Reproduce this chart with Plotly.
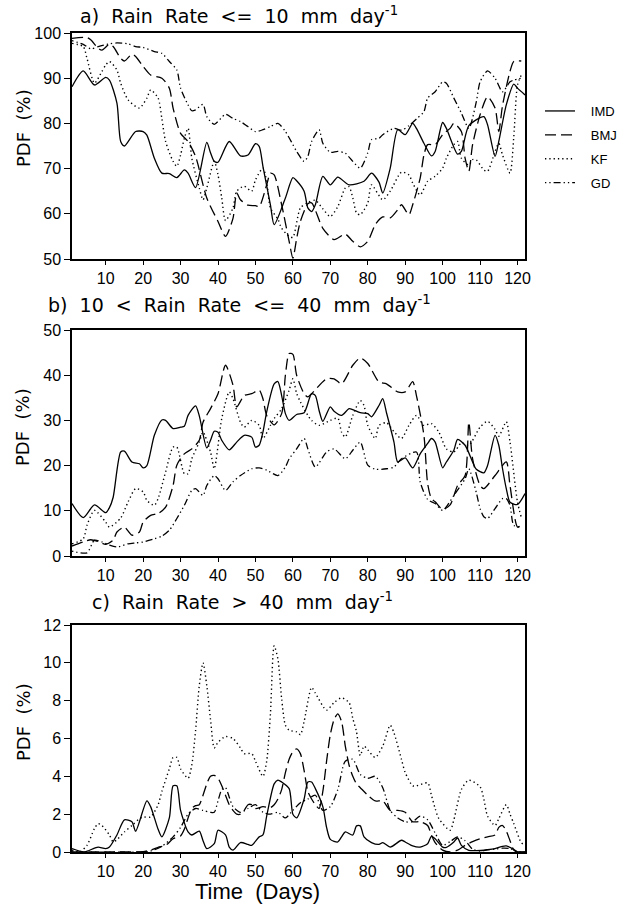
import plotly.graph_objects as go

# ---------------- panel a: rain rate <= 10 mm/day ----------------
a_imd_day = [1, 4, 7, 10, 11, 13, 14, 15, 18, 20, 21, 23, 25, 27, 29, 31, 32, 34, 37, 38, 39, 40,
             43, 46, 48, 50, 51, 52, 54, 55, 58, 60, 61, 63, 64, 65, 66, 68, 70, 72, 75, 79, 81,
             83, 84, 86, 88, 90, 92, 93, 95, 97, 98, 100, 101, 104, 105, 107, 111, 112, 114,
             115, 117, 119, 120, 122]
a_imd_pdf = [88.1, 91.6, 88.5, 90.2, 89.6, 84.5, 76.0, 75.0, 78.2, 78.2, 77.4, 72.3, 69.0, 68.9,
             68.0, 69.7, 69.0, 65.8, 75.8, 73.5, 71.6, 71.4, 76.0, 72.8, 73.0, 75.5, 74.9, 70.5,
             62.0, 57.6, 63.5, 68.0, 67.3, 65.0, 61.3, 60.5, 62.0, 68.3, 66.4, 68.1, 66.4, 67.2,
             69.0, 67.0, 64.6, 70.1, 78.6, 77.5, 80.0, 78.9, 75.6, 72.8, 73.8, 80.2, 78.9, 73.2,
             73.8, 79.5, 81.5, 79.7, 72.7, 76.0, 84.1, 88.7, 87.8, 86.3]

a_bmj_day = [1, 5, 6, 8, 9, 11, 12, 14, 15, 17, 18, 20, 22, 25, 27, 28, 30, 32, 34, 37, 40, 42,
             44, 45, 46, 48, 50, 51, 53, 54, 55, 57, 59, 60, 61, 62, 64, 65, 68, 71, 74, 76, 78,
             80, 82, 84, 86, 88, 89, 91, 92, 94, 95, 96, 98, 100, 102, 103, 105, 106, 107, 108,
             110, 112, 114, 115, 116, 118, 119, 121]
a_bmj_pdf = [98.8, 99.0, 98.5, 96.6, 96.2, 97.5, 97.0, 94.4, 93.8, 95.3, 94.8, 92.6, 90.7, 90.0,
             87.8, 83.4, 77.8, 76.0, 72.7, 63.5, 58.3, 55.0, 59.0, 64.6, 63.1, 61.9, 61.8, 61.6,
             66.4, 69.0, 68.6, 62.0, 53.9, 50.2, 54.5, 58.3, 62.2, 62.4, 56.8, 54.3, 55.5, 53.9,
             52.7, 53.9, 57.6, 59.3, 59.1, 60.9, 62.0, 59.8, 62.0, 67.9, 73.0, 75.3, 75.3, 77.5,
             78.9, 80.0, 78.2, 72.3, 69.4, 75.3, 81.9, 85.9, 83.4, 78.2, 84.0, 91.5, 93.7, 93.8]

a_kf_day = [1, 4, 5, 7, 9, 10, 11, 13, 14, 16, 19, 21, 22, 24, 25, 26, 28, 29, 30, 31, 32, 33,
            35, 36, 37, 39, 40, 41, 42, 44, 45, 47, 49, 50, 52, 53, 54, 56, 57, 59, 60, 62, 64,
            66, 68, 70, 72, 74, 75, 76, 77, 78, 80, 81, 84, 86, 89, 91, 92, 94, 96, 98, 100,
            101, 103, 104, 105, 107, 108, 109, 111, 112, 114, 115, 116, 118, 119, 120, 121]
a_kf_pdf = [97.7, 97.0, 94.4, 88.9, 91.5, 92.9, 93.7, 91.8, 88.9, 85.2, 83.4, 85.6, 87.4, 85.6,
            81.1, 76.0, 71.6, 70.5, 73.0, 76.7, 78.9, 72.3, 65.7, 63.1, 65.7, 71.6, 68.6, 63.5,
            58.5, 61.3, 65.0, 66.1, 65.0, 67.5, 70.1, 67.2, 61.3, 58.8, 56.8, 55.0, 54.8, 61.3,
            62.5, 63.0, 61.1, 59.4, 61.6, 65.7, 66.0, 63.5, 60.2, 59.8, 62.4, 66.4, 63.1, 65.0,
            69.2, 68.6, 66.8, 64.2, 67.2, 68.3, 70.1, 72.3, 75.3, 76.0, 72.3, 70.8, 72.0, 71.9,
            69.7, 69.4, 73.8, 75.6, 73.0, 69.0, 77.0, 88.5, 90.7]

a_gd_day = [1, 4, 6, 8, 11, 13, 16, 18, 20, 23, 25, 27, 29, 30, 32, 33, 34, 36, 37, 39, 42, 44,
            46, 48, 50, 52, 54, 56, 58, 60, 61, 63, 64, 65, 67, 68, 70, 72, 74, 76, 78, 80, 81,
            83, 84, 87, 89, 91, 93, 95, 96, 98, 100, 101, 103, 105, 107, 109, 110, 112, 114,
            116, 118, 119, 121]
a_gd_pdf = [98.3, 97.5, 96.5, 97.0, 97.6, 97.8, 97.6, 97.0, 96.8, 95.9, 95.5, 93.7, 91.8, 87.8,
            84.1, 82.8, 83.0, 84.2, 81.5, 79.8, 82.0, 81.1, 80.4, 79.3, 78.2, 78.6, 79.3, 80.0,
            78.2, 75.3, 73.8, 71.6, 72.7, 76.0, 78.6, 75.6, 73.6, 73.8, 73.4, 71.6, 70.1, 73.5,
            76.4, 76.7, 77.5, 78.9, 78.5, 79.5, 81.0, 82.6, 85.6, 87.0, 89.2, 88.9, 85.6, 82.3,
            78.9, 84.8, 89.2, 91.6, 90.0, 87.0, 89.2, 89.6, 90.0]

# ---------------- panel b: 10 < rain rate <= 40 mm/day ----------------
b_imd_day = [1, 4, 7, 10, 11, 12, 14, 15, 17, 19, 20, 21, 23, 25, 26, 28, 30, 31, 32, 34, 35,
             37, 38, 39, 40, 41, 43, 45, 47, 49, 50, 51, 52, 53, 55, 56, 57, 58, 59, 61, 63, 65,
             66, 67, 68, 70, 71, 73, 75, 76, 78, 80, 81, 83, 84, 85, 87, 88, 90, 92, 94, 96, 97,
             98, 100, 101, 103, 104, 106, 108, 109, 111, 112, 114, 115, 116, 117, 118, 120, 122]
b_imd_pdf = [11.6, 8.5, 11.3, 9.6, 10.7, 13.0, 23.0, 23.2, 20.8, 20.4, 19.5, 20.0, 26.7, 30.1,
             30.0, 28.2, 28.5, 28.7, 31.1, 33.2, 31.0, 23.9, 25.6, 27.6, 27.4, 25.6, 23.5, 25.2,
             26.7, 26.3, 24.1, 24.5, 27.4, 31.9, 38.1, 38.6, 35.5, 31.5, 30.0, 31.3, 31.7, 35.9,
             35.5, 32.2, 29.8, 33.0, 32.0, 31.1, 32.6, 32.4, 31.7, 31.5, 30.8, 33.3, 34.8, 31.7,
             25.2, 20.8, 21.7, 19.5, 22.6, 24.9, 26.0, 25.2, 19.5, 20.8, 23.4, 25.8, 24.5, 20.8,
             19.2, 18.4, 20.0, 26.7, 24.5, 19.3, 14.9, 11.9, 11.4, 13.8]

b_bmj_day = [1, 4, 6, 8, 10, 12, 13, 15, 17, 19, 20, 22, 24, 26, 28, 29, 31, 33, 35, 36, 38, 40,
             42, 44, 45, 47, 49, 51, 52, 53, 55, 57, 58, 59, 60, 61, 63, 64, 65, 69, 71, 73, 76,
             78, 80, 83, 85, 88, 90, 92, 93, 95, 96, 97, 98, 100, 102, 104, 106, 107, 108, 110,
             111, 114, 117, 118, 120, 121]
b_bmj_pdf = [2.2, 3.1, 3.6, 3.2, 2.6, 3.5, 5.3, 6.4, 4.6, 5.3, 7.5, 9.0, 9.4, 10.8, 15.6, 20.1,
             22.6, 23.7, 25.6, 29.6, 32.6, 35.9, 42.2, 37.8, 33.0, 35.5, 35.9, 36.7, 34.8, 31.1,
             29.0, 31.5, 40.0, 44.8, 44.6, 40.0, 35.9, 35.2, 35.9, 39.2, 39.2, 38.1, 42.2, 43.8,
             42.6, 38.5, 38.1, 36.3, 36.3, 38.6, 35.5, 26.7, 16.0, 12.7, 12.0, 10.3, 11.3, 15.6,
             17.8, 29.6, 21.5, 15.6, 14.9, 17.8, 20.8, 15.6, 6.4, 6.8]

b_kf_day = [1, 4, 5, 7, 10, 11, 14, 16, 18, 20, 21, 23, 24, 26, 28, 29, 31, 32, 33, 35, 36, 38,
            39, 41, 43, 44, 46, 47, 49, 51, 52, 54, 55, 57, 59, 60, 61, 62, 64, 65, 67, 70, 72,
            73, 74, 76, 78, 79, 80, 82, 83, 85, 87, 89, 91, 93, 95, 97, 99, 101, 103, 105, 107,
            110, 112, 114, 115, 117, 118, 120, 121]
b_kf_pdf = [2.7, 3.8, 6.8, 10.1, 7.5, 6.4, 8.4, 12.0, 14.9, 14.2, 12.3, 11.2, 12.7, 18.6, 24.1,
            24.1, 18.2, 18.2, 21.5, 25.2, 27.4, 23.0, 19.3, 30.4, 36.3, 34.8, 29.6, 28.5, 30.0,
            28.9, 26.0, 28.9, 30.4, 32.6, 36.7, 39.2, 36.0, 34.1, 31.1, 30.0, 28.9, 30.0, 30.5,
            27.4, 26.3, 31.1, 34.4, 33.3, 28.9, 26.0, 28.9, 29.5, 27.5, 26.0, 28.9, 31.1, 28.9,
            29.3, 27.4, 23.7, 23.0, 25.0, 24.5, 28.5, 29.8, 28.0, 26.5, 29.7, 25.2, 11.9, 8.6]

b_gd_day = [1, 5, 7, 9, 11, 13, 16, 18, 20, 23, 25, 27, 29, 31, 33, 34, 36, 37, 39, 40, 42, 44,
            46, 49, 51, 53, 56, 58, 59, 61, 63, 64, 66, 69, 71, 74, 76, 78, 80, 82, 85, 87, 89,
            93, 94, 96, 98, 100, 103, 106, 107, 109, 110, 111, 112, 114, 116, 117, 118, 119, 121]
b_gd_pdf = [1.1, 0.7, 3.5, 3.1, 2.4, 2.0, 2.7, 2.9, 3.1, 3.8, 4.4, 5.7, 8.3, 11.2, 14.5, 14.9,
            13.4, 15.6, 17.8, 17.1, 14.5, 16.4, 17.8, 19.3, 19.5, 19.0, 17.8, 19.7, 21.5, 23.7,
            26.0, 23.7, 19.7, 23.0, 23.7, 21.5, 23.4, 25.2, 20.1, 19.2, 19.3, 19.7, 21.5, 23.0,
            16.4, 12.5, 11.6, 10.1, 13.4, 17.1, 19.3, 14.0, 10.5, 8.7, 8.3, 10.5, 12.7, 12.7,
            11.2, 6.8, 6.4]

# ---------------- panel c: rain rate > 40 mm/day ----------------
c_imd_day = [1, 4, 5, 7, 8, 10, 11, 13, 15, 17, 18, 21, 22, 24, 25, 27, 28, 29, 30, 32, 33, 35,
             36, 37, 39, 40, 42, 43, 44, 46, 48, 49, 51, 52, 53, 55, 56, 57, 59, 60, 61, 63, 64,
             65, 66, 68, 69, 70, 72, 73, 74, 76, 77, 78, 79, 81, 83, 84, 86, 89, 90, 92, 94, 96,
             97, 98, 100, 101, 103, 104, 105, 107, 109, 112, 114, 116, 117, 119, 120, 122]
c_imd_pdf = [0.18, 0.0, 0.04, 0.2, 0.26, 0.18, 0.26, 0.9, 1.7, 1.6, 1.1, 2.7, 2.4, 1.2, 0.8, 1.8,
             3.5, 3.5, 2.2, 1.06, 0.9, 1.1, 0.6, 0.18, 0.44, 1.15, 0.9, 0.26, 0.1, 0.5, 0.4,
             0.35, 0.8, 0.9, 1.9, 3.6, 3.8, 3.7, 3.35, 2.0, 1.8, 2.8, 3.7, 3.7, 3.35, 2.4, 1.3,
             0.67, 0.53, 0.8, 1.06, 0.9, 1.38, 1.38, 0.8, 0.5, 0.4, 0.5, 0.26, 0.62, 0.53, 0.32,
             0.26, 0.44, 0.83, 0.7, 0.26, 0.25, 0.53, 0.74, 0.35, 0.09, 0.07, 0.12, 0.18, 0.3,
             0.32, 0.14, 0.0, 0.0]

c_bmj_day = [1, 10, 20, 22, 24, 26, 28, 30, 31, 32, 33, 34, 35, 36, 37, 38, 39, 40, 41, 42, 43,
             44, 45, 46, 47, 48, 49, 50, 52, 54, 55, 56, 57, 58, 59, 60, 61, 62, 63, 64, 65, 66,
             67, 68, 69, 70, 71, 72, 73, 74, 75, 76, 77, 78, 80, 82, 84, 86, 88, 90, 92, 94, 96,
             97, 98, 100, 102, 104, 106, 108, 110, 112, 114, 115, 116, 117, 118, 119, 120, 122]
c_bmj_pdf = [0.0, 0.0, 0.02, 0.1, 0.25, 0.35, 0.7, 0.85, 1.2, 1.8, 2.3, 2.45, 2.5, 3.0, 3.6, 4.0,
             4.05, 3.9, 3.5, 3.0, 2.5, 2.2, 2.0, 2.0, 2.2, 2.5, 2.5, 2.3, 2.4, 2.35, 2.5, 2.8,
             3.3, 4.2, 4.9, 5.3, 5.45, 5.2, 4.3, 3.2, 2.8, 2.5, 2.3, 3.2, 4.8, 6.2, 7.0, 7.3,
             6.9, 5.6, 4.6, 4.0, 3.6, 3.4, 3.0, 2.7, 2.7, 2.2, 2.2, 2.1, 1.6, 1.6, 1.4, 0.9, 0.5,
             0.1, 0.0, 0.1, 0.35, 0.55, 0.7, 0.8, 0.9, 1.3, 1.4, 1.1, 0.6, 0.1, 0.0, 0.0]

c_kf_day = [1, 3, 5, 7, 8, 9, 11, 12, 13, 15, 17, 19, 20, 22, 24, 25, 27, 28, 29, 30, 32, 33,
            34, 35, 36, 37, 38, 39, 40, 42, 44, 46, 47, 49, 50, 52, 53, 54, 55, 56, 57, 58, 59,
            61, 62, 63, 65, 66, 69, 71, 73, 75, 76, 77, 78, 79, 80, 82, 84, 86, 87, 89, 90, 92,
            93, 96, 97, 98, 99, 102, 103, 105, 107, 110, 111, 112, 114, 115, 117, 118, 119, 121,
            122]
c_kf_pdf = [0.1, 0.0, 0.35, 1.24, 1.5, 1.4, 0.9, 0.53, 0.65, 1.06, 1.4, 1.76, 1.85, 1.85, 2.5,
            3.2, 4.4, 5.0, 5.0, 4.4, 3.9, 4.6, 6.4, 8.8, 10.0, 8.8, 7.0, 5.5, 5.8, 6.1, 6.0,
            5.5, 5.2, 5.2, 4.8, 4.0, 4.8, 7.3, 10.9, 10.2, 8.1, 6.7, 6.44, 6.35, 6.2, 6.9, 8.7,
            8.4, 7.5, 7.9, 8.15, 7.9, 7.06, 6.35, 5.1, 5.6, 5.4, 5.0, 5.6, 6.7, 6.3, 4.9, 4.2,
            3.5, 3.5, 3.65, 3.0, 2.3, 1.76, 1.15, 1.7, 3.3, 3.8, 3.45, 2.8, 1.9, 1.4, 1.76, 2.5,
            2.0, 1.5, 0.5, 0.35]

c_gd_day = [1, 20, 22, 25, 28, 30, 32, 34, 36, 38, 39, 40, 41, 42, 43, 44, 46, 48, 50, 52, 54,
            56, 58, 60, 62, 64, 66, 68, 70, 72, 74, 76, 78, 80, 82, 84, 86, 88, 90, 92, 94, 96,
            98, 100, 102, 104, 106, 108, 110, 112, 114, 116, 118, 120, 122]
c_gd_pdf = [0.0, 0.0, 0.05, 0.3, 0.8, 1.3, 2.0, 2.3, 2.2, 2.1, 2.1, 2.7, 3.3, 3.4, 2.9, 2.4,
            2.1, 2.3, 2.5, 2.1, 2.0, 2.1, 1.8, 2.2, 2.6, 2.8, 3.0, 2.2, 2.4, 3.3, 4.8, 4.9, 4.1,
            3.9, 4.0, 3.4, 2.2, 1.8, 1.6, 1.6, 1.9, 1.7, 1.0, 0.35, 0.55, 0.8, 0.6, 0.15, 0.05,
            0.12, 0.15, 0.2, 0.18, 0.02, 0.0]

series_names = ["IMD", "BMJ", "KF", "GD"]
panel_titles = [
    "a)\u00a0 Rain\u00a0 Rate\u00a0 &lt;=\u00a0 10\u00a0 mm\u00a0 day<sup>-1</sup>",
    "b)\u00a0 10\u00a0 &lt;\u00a0 Rain\u00a0 Rate\u00a0 &lt;=\u00a0 40\u00a0 mm\u00a0 day<sup>-1</sup>",
    "c)\u00a0 Rain\u00a0 Rate\u00a0 &gt;\u00a0 40\u00a0 mm\u00a0 day<sup>-1</sup>",
]
y_ranges = [(50, 100), (0, 50), (0, 12)]
y_dticks = [10, 10, 2]
x_tickvals = [10, 20, 30, 40, 50, 60, 70, 80, 90, 100, 110, 120]

panels = [
    [(a_imd_day, a_imd_pdf), (a_bmj_day, a_bmj_pdf), (a_kf_day, a_kf_pdf), (a_gd_day, a_gd_pdf)],
    [(b_imd_day, b_imd_pdf), (b_bmj_day, b_bmj_pdf), (b_kf_day, b_kf_pdf), (b_gd_day, b_gd_pdf)],
    [(c_imd_day, c_imd_pdf), (c_bmj_day, c_bmj_pdf), (c_kf_day, c_kf_pdf), (c_gd_day, c_gd_pdf)],
]

# line styles: solid, long dash, dotted, dot-dot-dash
line_styles = {
    "IMD": dict(dash="solid", width=1.3),
    "BMJ": dict(dash="11px,5px", width=1.3),
    "KF": dict(dash="1.3px,3px", width=1.4),
    "GD": dict(dash="1.3px,3px,1.3px,3px,7px,3px", width=1.3),
}

# figure geometry (pixels)
W, H = 628, 907
L, R, T, B = 72, 103, 33, 55
plot_h = H - T - B
plot_w = W - L - R


def py(y_px):
    return (H - B - y_px) / plot_h


def px(x_px):
    return (x_px - L) / plot_w


panel_px = [(33, 259), (330, 556), (625, 852)]
domains = [[py(bot), py(top)] for top, bot in panel_px]

fig = go.Figure()
tick_font = dict(family="Liberation Sans Narrow, Liberation Sans, Arial", size=16, color="black")

for i, series in enumerate(panels):
    xa = "x" if i == 0 else f"x{i + 1}"
    ya = "y" if i == 0 else f"y{i + 1}"
    for name, (days, vals) in zip(series_names, series):
        fig.add_trace(go.Scatter(
            x=days, y=vals, mode="lines", name="\u00a0\u00a0\u00a0" + name,
            line=dict(color="black", shape="spline", smoothing=0.7, **line_styles[name]),
            xaxis=xa, yaxis=ya, showlegend=(i == 0), legendgroup=name,
            hoverinfo="skip",
        ))

axis_common = dict(
    showline=True, linecolor="black", linewidth=1.5, mirror=True,
    showgrid=False, zeroline=False, ticks="outside", tickcolor="black",
    tickwidth=1, tickfont=tick_font,
)

layout = dict(
    width=W, height=H,
    margin=dict(l=L, r=R, t=T, b=B, autoexpand=False),
    paper_bgcolor="white", plot_bgcolor="white",
    showlegend=True,
    legend=dict(
        x=px(540), y=py(96), xanchor="left", yanchor="top",
        font=dict(family="Liberation Sans, Arial", size=13, color="black"),
        tracegroupgap=4, bgcolor="rgba(0,0,0,0)", itemwidth=30,
    ),
)

for i in range(3):
    xkey = "xaxis" if i == 0 else f"xaxis{i + 1}"
    ykey = "yaxis" if i == 0 else f"yaxis{i + 1}"
    yname = "y" if i == 0 else f"y{i + 1}"
    xname = "x" if i == 0 else f"x{i + 1}"
    layout[xkey] = dict(
        axis_common, range=[1, 122], tickvals=x_tickvals, ticklen=4,
        domain=[0, 1], anchor=yname,
    )
    layout[ykey] = dict(
        axis_common, range=list(y_ranges[i]), dtick=y_dticks[i], tick0=0, ticklen=6,
        domain=domains[i], anchor=xname,
    )

fig.update_layout(**layout)

title_font = dict(family="DejaVu Sans", size=19, color="black")
title_pos = [(78, 15), (46, 304), (90, 601)]
for text, (tx, ty) in zip(panel_titles, title_pos):
    fig.add_annotation(
        text=text, xref="paper", yref="paper", x=px(tx), y=py(ty),
        xanchor="left", yanchor="middle", showarrow=False, font=title_font,
    )

# y-axis titles
for cy in [128, 427, 722]:
    fig.add_annotation(
        text="PDF\u00a0 (%)", xref="paper", yref="paper", x=px(23), y=py(cy),
        xanchor="center", yanchor="middle", showarrow=False, textangle=-90,
        font=dict(family="DejaVu Sans", size=18, color="black"),
    )

# x-axis title
fig.add_annotation(
    text="Time\u00a0 (Days)", xref="paper", yref="paper", x=px(257), y=py(891),
    xanchor="center", yanchor="middle", showarrow=False,
    font=dict(family="Liberation Sans, Arial", size=22, color="black"),
)

fig.write_html("out.html")
